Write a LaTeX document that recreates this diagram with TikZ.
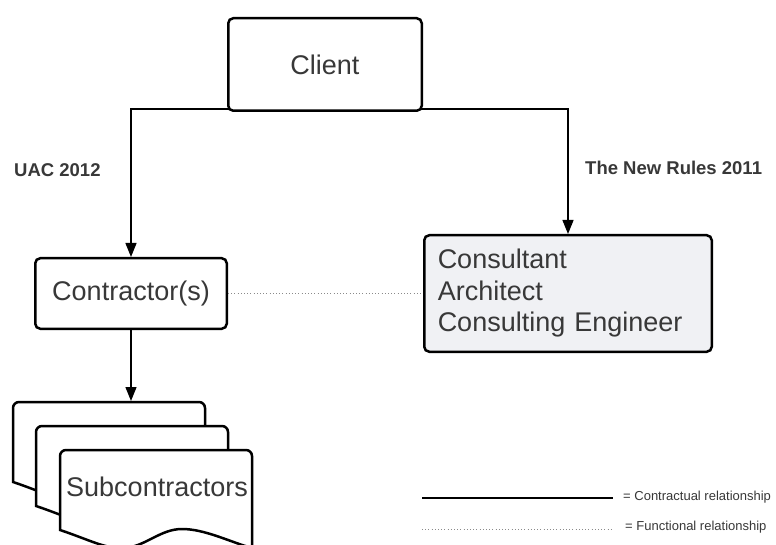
\documentclass[tikz,border=0pt]{standalone}
\usepackage{fontspec}
\setmainfont{Liberation Sans}
\usetikzlibrary{arrows.meta}

\definecolor{ink}{HTML}{383838}
\definecolor{panelgray}{HTML}{F0F1F4}
\definecolor{dotgray}{HTML}{8A8A8A}

\tikzset{
  box/.style={draw=black, line width=2.5pt, rounded corners=5pt, fill=white,
    text=ink, font=\fontsize{27}{31.5}\selectfont, inner sep=0pt},
  conn/.style={draw=black, line width=1.3pt},
  tip/.style={-{Triangle[length=14pt,width=11pt]}},
  functional/.style={draw=dotgray, line width=1pt, dash pattern=on 0.8pt off 2.4pt},
  lawlabel/.style={text=ink, font=\fontsize{18.5}{22}\selectfont\bfseries, inner sep=0pt, anchor=west},
  keylabel/.style={text=ink, font=\fontsize{13}{16}\selectfont, inner sep=0pt, anchor=west},
  sheet/.style={draw=black, line width=2.5pt, fill=white}
}

\begin{document}
\begin{tikzpicture}[x=1pt, y=-1pt]
  \useasboundingbox (0,0) rectangle (776,545);
  \fill[white] (0,0) rectangle (776,545);
  \clip (0,0) rectangle (776,545);

  % parties
  \node[box, minimum width=191.5pt, minimum height=70.5pt] (contractor) at (131,293.5) {Contractor(s)};
  \node[box, fill=panelgray, minimum width=287.5pt, minimum height=116.5pt,
        text width=260.5pt, inner xsep=13.5pt, align=left] (consultant) at (568,293.5)
        {Consultant\\Architect\\Consulting Engineer};

  % contractual links from the client
  \coordinate (split) at (325,109);
  \draw[conn, tip] (split) -| (contractor.north);
  \draw[conn, tip] (split) -| (consultant.north);

  \node[box, minimum width=193.5pt, minimum height=92.5pt] (client) at (325,64.5) {Client};

  % functional link
  \draw[functional] (contractor.east) -- (consultant.west);

  % governing rules
  \node[lawlabel] (uac) at (14,170) {UAC 2012};
  \node[lawlabel] (rules) at (585,168) {The New Rules 2011};

  % stack of subcontractor sheets
  \foreach \dx/\dy in {13/402, 36/426, 60/450} {
    \begin{scope}[shift={(\dx,\dy)}]
      \path[sheet] (0,80) -- (0,6) arc[start angle=180, end angle=270, radius=6]
        -- (186,0) arc[start angle=270, end angle=360, radius=6]
        -- (192,98)
        .. controls (170,92) and (145,79) .. (122,79)
        .. controls (100,79) and (85,97) .. (64,98)
        .. controls (45,99) and (30,90) .. (0,80) -- cycle;
    \end{scope}
  }
  \coordinate (stacktop) at (131,401);
  \node[text=ink, font=\fontsize{27}{32}\selectfont, inner sep=0pt] (subs) at (157,487) {Subcontractors};
  \draw[conn, tip] (contractor.south) -- (stacktop);

  % key
  \coordinate (k1a) at (422,498);
  \coordinate (k1b) at (613,498);
  \coordinate (k2a) at (422,529);
  \coordinate (k2b) at (613,529);
  \draw[conn] (k1a) -- (k1b);
  \draw[functional] (k2a) -- (k2b);
  \node[keylabel] (k1text) at (623,497) {= Contractual relationship};
  \node[keylabel] (k2text) at (625,527) {= Functional relationship};
\end{tikzpicture}
\end{document}
